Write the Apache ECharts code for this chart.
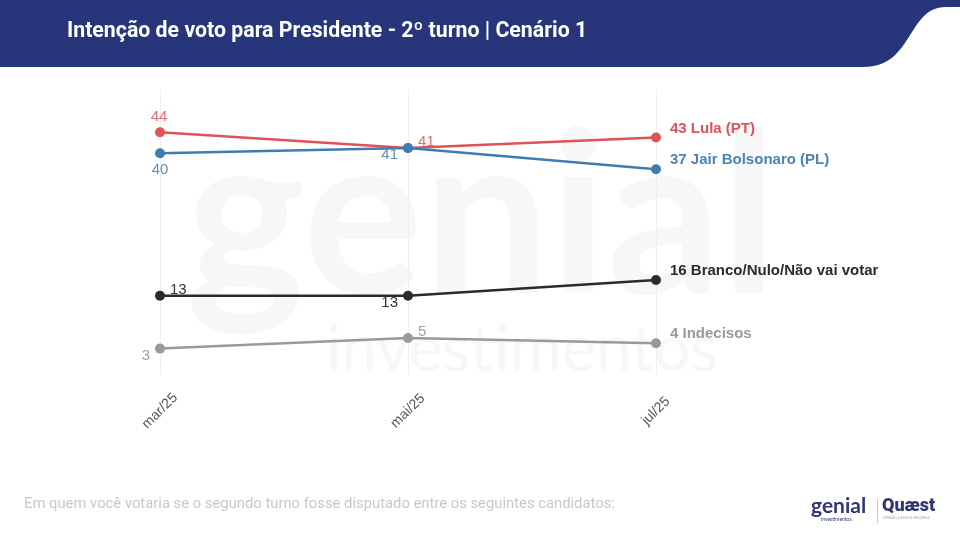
<!DOCTYPE html>
<html lang="pt">

<head>
    <meta charset="UTF-8">
    <title>Intenção de voto</title>
    <script type="text/javascript" src="https://cdn.jsdelivr.net/npm/echarts@6/dist/echarts.min.js"></script>
    <style>
        html, body { margin: 0; padding: 0; background: #fff; }
        .chart { width: 960px; height: 540px; }
    </style>
</head>

<body>
    <div class="chart"></div>
</body>
<script>
    // dados
    let meses = ['mar/25', 'mai/25', 'jul/25']
    let lula = [44, 41, 43]
    let bolsonaro = [40, 41, 37]
    let branco = [13, 13, 16]
    let indecisos = [3, 5, 4]

    let fonte = 'Liberation Sans'
    let mCharts = echarts.init(document.querySelector('.chart'))

    // contorno da faixa do título (curva à direita)
    function faixa() {
        let pts = [[0, 0], [960, 0], [960, 7], [946, 7]]
        let curvas = [
            [[946, 7], [930, 7], [922, 16], [912, 32]],
            [[912, 32], [898, 55], [888, 67], [862, 67]]
        ]
        curvas.forEach(c => {
            for (let k = 1; k <= 12; k++) {
                let t = k / 12, u = 1 - t
                pts.push([
                    u * u * u * c[0][0] + 3 * u * u * t * c[1][0] + 3 * u * t * t * c[2][0] + t * t * t * c[3][0],
                    u * u * u * c[0][1] + 3 * u * u * t * c[1][1] + 3 * u * t * t * c[2][1] + t * t * t * c[3][1]
                ])
            }
        })
        pts.push([0, 67])
        return pts
    }

    // monta os pontos: rótulo de cada ponto + rótulo final com o nome
    function pontos(valores, nome, lados, corRotulo, corNome) {
        return valores.map((v, i) => {
            if (i === valores.length - 1) {
                return {
                    value: v,
                    label: {
                        show: true, position: 'right', offset: [4, -9],
                        fontWeight: 'bold', fontSize: 15, fontFamily: fonte, color: corNome,
                        formatter: '{c} ' + nome
                    }
                }
            }
            let pos = {
                cima: { position: 'top', offset: [-1, 2] },
                baixo: { position: 'bottom', offset: [0, -1] },
                dirCima: { position: 'right', offset: [0, -6] },
                esqBaixo: { position: 'left', offset: [0, 7] }
            }[lados[i]]
            return {
                value: v,
                label: Object.assign({ show: true, fontSize: 15, fontFamily: fonte, color: corRotulo }, pos)
            }
        })
    }

    function serie(nome, valores, cor, corRotulo, corNome, lados) {
        return {
            name: nome,
            type: 'line',
            data: pontos(valores, nome, lados, corRotulo, corNome),
            symbol: 'circle',
            symbolSize: 10,
            lineStyle: { width: 2.5, color: cor },
            itemStyle: { color: cor },
            z: 5
        }
    }

    let option = {
        animation: false,
        grid: { left: 160, right: 304, top: 90, bottom: 165 },
        xAxis: {
            type: 'category',
            data: meses,
            boundaryGap: false,
            axisLine: { show: false },
            axisTick: { show: false },
            axisLabel: {
                rotate: 45, fontSize: 14, fontFamily: fonte, color: '#555',
                align: 'center', verticalAlign: 'middle', margin: 36
            },
            splitLine: { show: true, lineStyle: { color: '#efefef', width: 1 } }
        },
        yAxis: {
            type: 'value',
            min: -2,
            max: 52,
            show: false,
            splitLine: { show: false }
        },
        graphic: [
            // faixa do título
            {
                type: 'polygon',
                shape: { points: faixa() },
                style: { fill: '#27357A' },
                z: 1
            },
            {
                type: 'text', left: 67, top: 21, z: 2,
                style: {
                    text: 'Intenção de voto para Presidente - 2º turno | Cenário 1',
                    fill: '#fff', font: 'bold 21.3px Roboto'
                }
            },
            // marca d'água
            {
                type: 'text', left: 186, top: 108, z: -1, silent: true,
                style: { text: 'genial', fill: '#f7f7f7', font: 'bold 225px Lato' }
            },
            {
                type: 'text', left: 326, top: 318, z: -1, silent: true,
                style: { text: 'investimentos', fill: '#f7f7f7', font: '64px Lato' }
            },
            // rodapé
            {
                type: 'text', left: 24, top: 497,
                style: {
                    text: 'Em quem você votaria se o segundo turno fosse disputado entre os seguintes candidatos:',
                    fill: '#c8c8c8', font: '14.8px Roboto'
                }
            },
            // logo
            {
                type: 'text', left: 811, top: 496,
                style: { text: 'genial', fill: '#2f3575', font: 'bold 21px Lato' }
            },
            {
                type: 'text', left: 821, top: 517,
                style: { text: 'investimentos', fill: '#2f3575', font: '5px Lato' }
            },
            {
                type: 'rect', left: 877, top: 499, shape: { width: 1, height: 24 },
                style: { fill: '#c8c8d4' }
            },
            {
                type: 'text', left: 882, top: 497,
                style: { text: 'Quæst', fill: '#2f3575', font: '900 18px Roboto' }
            },
            {
                type: 'text', left: 883, top: 516,
                style: { text: 'OPINIÃO, DADOS E PESQUISA', fill: '#9a9eb8', font: '3.5px Roboto' }
            }
        ],
        series: [
            serie('Lula (PT)', lula, '#DE525A', '#E07076', '#DE525A', ['cima', 'dirCima']),
            serie('Jair Bolsonaro (PL)', bolsonaro, '#3D7DB3', '#5E8FBB', '#4A84B6', ['baixo', 'esqBaixo']),
            serie('Branco/Nulo/Não vai votar', branco, '#2B2B2B', '#333333', '#2B2B2B', ['dirCima', 'esqBaixo']),
            serie('Indecisos', indecisos, '#9A9A9A', '#A0A0A0', '#999999', ['esqBaixo', 'dirCima'])
        ]
    };
    mCharts.setOption(option)
</script>

</html>
